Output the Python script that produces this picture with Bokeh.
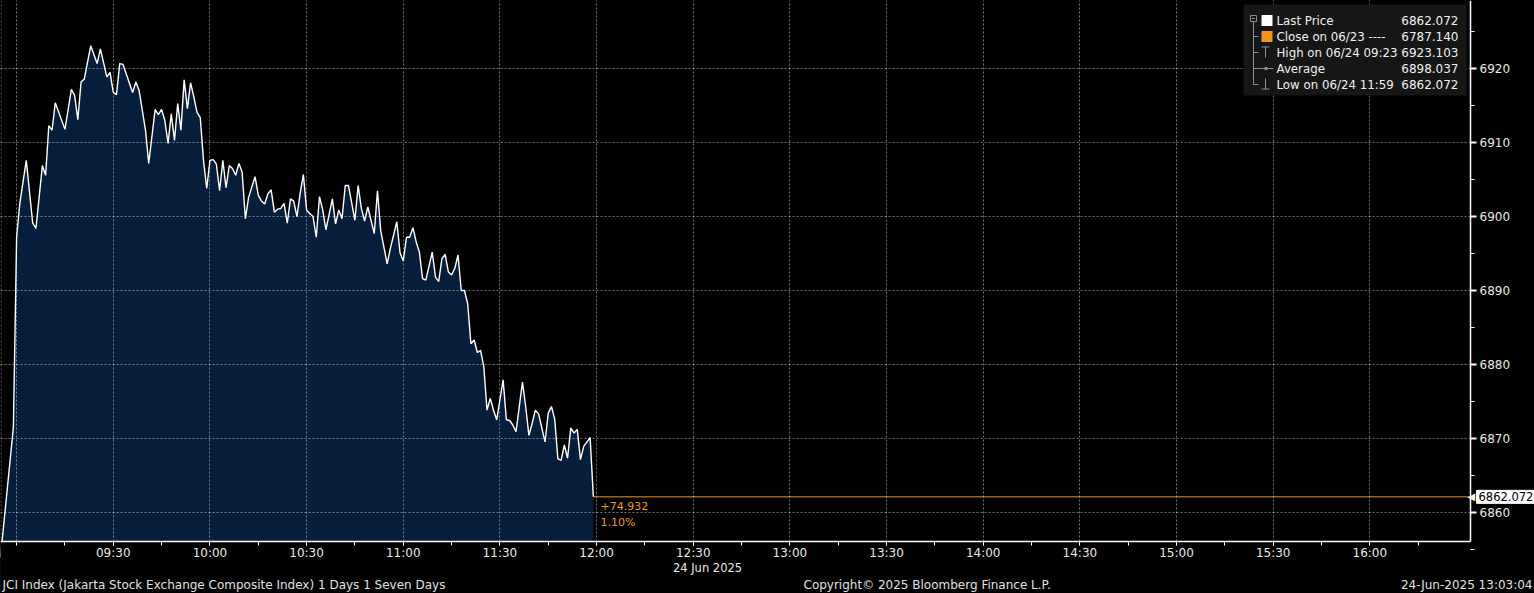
import pandas as pd
from bokeh.plotting import figure
from bokeh.models import (Range1d, FixedTicker, DatetimeTickFormatter, Label,
                          BoxAnnotation, Span)
from bokeh.embed import file_html
from bokeh.resources import INLINE

# ---------------- data ----------------
DAY = "2025-06-24"
times = [
    "08:55", "08:59", "09:00", "09:01", "09:03", "09:05", "09:06", "09:08", "09:09", "09:10",
    "09:11", "09:12", "09:15", "09:17", "09:18", "09:19", "09:20", "09:21", "09:23", "09:25",
    "09:26", "09:28", "09:29", "09:30", "09:31", "09:32", "09:33", "09:36", "09:37", "09:38",
    "09:40", "09:41", "09:43", "09:44", "09:45", "09:46", "09:47", "09:48", "09:49", "09:50",
    "09:51", "09:52", "09:53", "09:54", "09:55", "09:56", "09:57", "09:58", "09:59", "10:00",
    "10:01", "10:02", "10:03", "10:04", "10:05", "10:06", "10:07", "10:08", "10:09", "10:10",
    "10:11", "10:12", "10:14", "10:15", "10:16", "10:17", "10:18", "10:19", "10:20", "10:21",
    "10:22", "10:23", "10:24", "10:25", "10:26", "10:27", "10:28", "10:29", "10:30", "10:31",
    "10:32", "10:33", "10:34", "10:35", "10:36", "10:38", "10:39", "10:40", "10:41", "10:42",
    "10:43", "10:45", "10:46", "10:47", "10:48", "10:49", "10:51", "10:52", "10:53", "10:55",
    "10:56", "10:58", "10:59", "11:00", "11:01", "11:02", "11:03", "11:04", "11:05", "11:06",
    "11:07", "11:09", "11:10", "11:11", "11:12", "11:13", "11:14", "11:15", "11:16", "11:17",
    "11:18", "11:19", "11:20", "11:21", "11:22", "11:23", "11:24", "11:25", "11:26", "11:27",
    "11:28", "11:29", "11:30", "11:31", "11:32", "11:33", "11:34", "11:35", "11:37", "11:38",
    "11:39", "11:40", "11:41", "11:42", "11:44", "11:45", "11:46", "11:47", "11:48", "11:49",
    "11:50", "11:51", "11:52", "11:53", "11:54", "11:55", "11:56", "11:58", "11:59",
]
prices = [
    6853.9, 6871.5, 6897.2, 6901.8, 6907.6, 6899.1, 6898.4, 6906.9, 6905.6, 6912.3,
    6911.7, 6915.4, 6911.8, 6917.2, 6916.4, 6913.1, 6918.2, 6918.6, 6923.103, 6920.7,
    6922.7, 6918.9, 6919.5, 6916.8, 6916.5, 6920.7, 6920.6, 6916.8, 6918.2, 6917.1,
    6911.7, 6907.2, 6914.5, 6913.8, 6914.5, 6913.0, 6909.9, 6913.9, 6910.3, 6915.3,
    6911.7, 6918.5, 6914.6, 6918.1, 6916.2, 6914.1, 6913.4, 6907.6, 6903.8, 6907.6,
    6907.7, 6907.1, 6903.5, 6907.6, 6903.9, 6906.9, 6906.5, 6905.6, 6907.2, 6906.0,
    6899.7, 6902.6, 6905.4, 6902.9, 6902.1, 6901.7, 6903.1, 6903.6, 6900.6, 6901.0,
    6901.1, 6901.8, 6899.1, 6902.4, 6902.1, 6900.0, 6903.1, 6905.7, 6900.9, 6900.4,
    6900.0, 6897.2, 6902.7, 6900.9, 6898.2, 6902.4, 6899.0, 6900.9, 6899.7, 6904.2,
    6904.2, 6899.5, 6904.2, 6901.1, 6899.4, 6901.3, 6897.7, 6903.5, 6898.1, 6893.6,
    6895.7, 6899.3, 6895.1, 6894.0, 6897.2, 6897.2, 6898.5, 6896.6, 6895.2, 6891.6,
    6891.4, 6895.2, 6891.8, 6891.2, 6894.3, 6894.9, 6892.5, 6892.1, 6893.0, 6894.8,
    6890.0, 6890.0, 6888.2, 6882.8, 6883.3, 6881.6, 6881.9, 6879.7, 6873.8, 6875.4,
    6873.8, 6872.5, 6875.2, 6877.9, 6872.5, 6872.4, 6871.8, 6870.9, 6877.6, 6874.3,
    6870.4, 6872.0, 6873.8, 6873.3, 6869.5, 6873.4, 6874.3, 6872.6, 6867.2, 6867.0,
    6869.1, 6867.3, 6871.4, 6870.7, 6871.2, 6867.1, 6868.9, 6870.1, 6862.072,
]

x_labels = ["09:30", "10:00", "10:30", "11:00", "11:30", "12:00", "12:30", "13:00",
            "13:30", "14:00", "14:30", "15:00", "15:30", "16:00"]
x_grid = ["09:00"] + x_labels
x_minor = ["09:00", "09:15", "09:30", "09:45", "10:00", "10:15", "10:30", "10:45",
           "11:00", "11:15", "11:30", "11:45", "12:00", "12:15", "12:30", "12:45",
           "13:00", "13:15", "13:30", "13:45", "14:00", "14:15", "14:30", "14:45",
           "15:00", "15:15", "15:30", "15:45", "16:00", "16:15"]
y_ticks = [6860, 6870, 6880, 6890, 6900, 6910, 6920]
y_minor = [6855, 6865, 6875, 6885, 6895, 6905, 6915, 6925]

legend_names = ["Last Price", "Close on 06/23 ----", "High on 06/24 09:23",
                "Average", "Low on 06/24 11:59"]
legend_values = ["6862.072", "6787.140", "6923.103", "6898.037", "6862.072"]
last_price = 6862.072
last_price_text = "6862.072"
change_text = "+74.932"
change_pct = "1.10%"
date_label = "24 Jun 2025"
footer_left = "JCI Index (Jakarta Stock Exchange Composite Index) 1 Days 1 Seven Days"
footer_mid = "Copyright\u00a9 2025 Bloomberg Finance L.P."
footer_right = "24-Jun-2025 13:03:04"

# ---------------- layout ----------------
W, H = 1534, 593            # canvas == frame
PLOT_W, PLOT_H = 1470, 541  # chart area inside the frame (axes drawn at its edges)
PX_PER_MIN = 3.222


def ts(hm):
    return pd.Timestamp(f"{DAY} {hm}")


def ms(hm):
    return ts(hm).value / 1e6


Y_TOP, Y_BOT = 6929.24, 6856.03          # values at the top / bottom of the chart area
Y_PER_PX = (Y_TOP - Y_BOT) / PLOT_H
X0 = ts("08:55")


def px_x(px):
    return X0.value / 1e6 + px / PX_PER_MIN * 60000.0


def px_y(py):
    return Y_TOP - py * Y_PER_PX


FONT = "DejaVu Sans"
NAVY = "#061e3b"
ORANGE = "#f0961e"
TXT = "#e8e8e8"

xs = pd.to_datetime([f"{DAY} {t}" for t in times])

p = figure(width=W, height=H, x_axis_type="datetime", y_axis_location="right",
           x_range=Range1d(px_x(0), px_x(W)), y_range=Range1d(px_y(H), px_y(0)),
           output_backend="svg", toolbar_location=None,
           min_border_left=0, min_border_top=0, min_border_right=0, min_border_bottom=0,
           background_fill_color="black", border_fill_color="black",
           outline_line_color=None)

p.varea(x=xs, y1=Y_BOT, y2=prices, fill_color=NAVY, fill_alpha=1)
p.line(xs, prices, line_color="white", line_width=1.4)
p.ray(x=[xs[-1]], y=[last_price], length=0, angle=0, line_color=ORANGE, line_width=1)

# grids
p.xgrid.ticker = FixedTicker(ticks=[ms(t) for t in x_grid])
p.ygrid.ticker = FixedTicker(ticks=y_ticks)
for g in (p.xgrid[0], p.ygrid[0]):
    g.grid_line_color = "white"
    g.grid_line_alpha = 0.45
    g.grid_line_dash = "2 2"
    g.grid_line_width = 1
    g.level = "guide"
p.add_layout(Span(location=px_x(0.5), dimension="height", line_color="white",
                  line_alpha=0.45, line_dash="2 2", line_width=1))

# black margins outside the chart area (right of the price axis, below the time axis)
p.add_layout(BoxAnnotation(left=px_x(PLOT_W + 0.8), fill_color="black", fill_alpha=1,
                           line_color=None))
p.add_layout(BoxAnnotation(top=px_y(PLOT_H + 0.8), fill_color="black", fill_alpha=1,
                           line_color=None))

# axes drawn at the edges of the chart area
xa = p.xaxis[0]
xa.fixed_location = Y_BOT
xa.bounds = (px_x(0), px_x(PLOT_W))
xa.ticker = FixedTicker(ticks=[ms(t) for t in x_labels], minor_ticks=[ms(t) for t in x_minor])
xa.formatter = DatetimeTickFormatter(minutes="%H:%M", hourmin="%H:%M", hours="%H:%M",
                                     days="%H:%M")
ya = p.yaxis[0]
ya.fixed_location = px_x(PLOT_W)
ya.bounds = (Y_BOT, Y_TOP)
ya.ticker = FixedTicker(ticks=y_ticks, minor_ticks=y_minor)
for ax in (xa, ya):
    ax.level = "overlay"
    ax.axis_line_color = "white"
    ax.axis_line_width = 1.5
    ax.major_tick_line_color = "white"
    ax.minor_tick_line_color = "white"
    ax.major_tick_in = 0
    ax.minor_tick_in = 0
    ax.major_label_text_color = TXT
    ax.major_label_text_font = FONT
    ax.major_label_text_font_size = "12px"
xa.major_tick_out = 4
xa.minor_tick_out = 4
xa.major_label_standoff = 0
ya.major_tick_out = 6
ya.major_tick_line_width = 2
ya.minor_tick_out = 4
ya.major_label_standoff = 3


def add_text(txt, px, py, color=TXT, size="11px", align="left", **kw):
    p.add_layout(Label(x=px_x(px), y=px_y(py), text=txt, text_color=color,
                       text_font=FONT, text_font_size=size, text_align=align,
                       text_baseline="middle", **kw))


def add_box(l, r, t, b, fill=None, line=None):
    p.add_layout(BoxAnnotation(left=px_x(l), right=px_x(r), top=px_y(t), bottom=px_y(b),
                               fill_color=fill, fill_alpha=1 if fill else 0,
                               line_color=line, line_alpha=1 if line else 0,
                               line_width=1))


# legend panel
add_box(1243, 1466, 4, 95, fill="#161616")
ICON = "#8c8c8c"
rows = [20, 36, 52, 68, 84]
add_box(1250, 1256, 15, 21, line=ICON)
add_box(1251.5, 1254.5, 17.5, 18.5, fill=ICON)
add_box(1252.5, 1253.5, 21, 84.5, fill=ICON)
for ry in rows[1:]:
    add_box(1253, 1258, ry - 0.5, ry + 0.5, fill=ICON)
add_box(1261, 1272, 14.5, 25.5, fill="white")
add_box(1261, 1272, 30.5, 41.5, fill=ORANGE)
add_box(1261, 1269, 46, 47, fill=ICON)
add_box(1264.5, 1265.5, 46, 57, fill=ICON)
add_box(1258, 1273, 67.5, 68.5, fill=ICON)
add_box(1264, 1267, 66.5, 69.5, fill=ICON)
add_box(1264.5, 1265.5, 78, 89, fill=ICON)
add_box(1261, 1269, 88, 89, fill=ICON)
for name, val, ry in zip(legend_names, legend_values, rows):
    add_text(name, 1276, ry, color="#f0f0f0", size="11.8px")
    add_text(val, 1458, ry, color="#f0f0f0", size="12px", align="right")

# last price annotations
add_text(change_text, 600, 505, color=ORANGE, size="11px")
add_text(change_pct, 600, 521.5, color=ORANGE, size="11px")

# last-price tag on the price axis
p.add_layout(Label(x=px_x(1467), y=last_price, text="\u25c0", text_color="white",
                   text_font=FONT, text_font_size="10px", text_baseline="middle"))
p.add_layout(Label(x=px_x(1476), y=last_price, text=last_price_text, text_color="black",
                   text_font=FONT, text_font_size="11.5px", text_baseline="middle",
                   background_fill_color="white", border_line_color="white", padding=2))

# texts under the chart
add_text(date_label, 707, 567, size="11.5px", align="center")
add_text(footer_left, 2, 584, color="#e0e0e0", size="12px")
add_text(footer_mid, 803, 584, color="#e0e0e0", size="12px")
add_text(footer_right, 1532, 584, color="#e0e0e0", size="12px", align="right")

template = """
{% block postamble %}
<style>html, body { margin: 0 !important; padding: 0; background: #000; overflow: hidden; }</style>
{% endblock %}
"""
open("out.html", "w").write(file_html(p, INLINE, template=template))
